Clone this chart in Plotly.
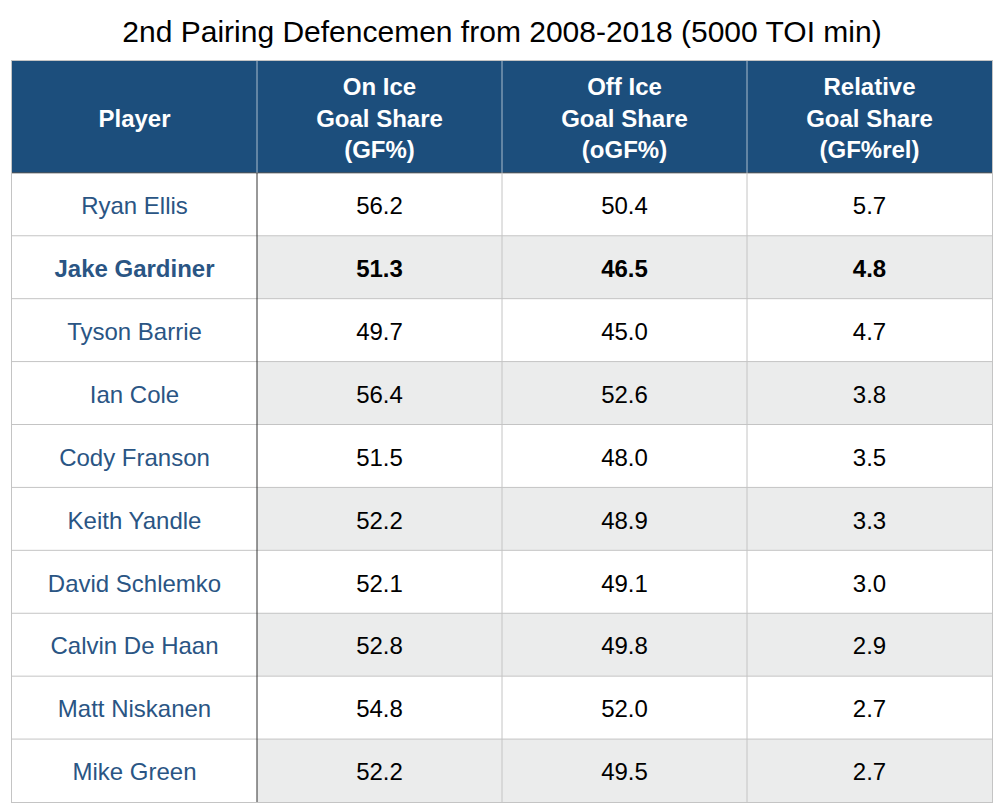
import plotly.graph_objects as go

# Table content
players = ["Ryan Ellis", "Jake Gardiner", "Tyson Barrie", "Ian Cole", "Cody Franson",
           "Keith Yandle", "David Schlemko", "Calvin De Haan", "Matt Niskanen", "Mike Green"]
gf_pct = [56.2, 51.3, 49.7, 56.4, 51.5, 52.2, 52.1, 52.8, 54.8, 52.2]
ogf_pct = [50.4, 46.5, 45.0, 52.6, 48.0, 48.9, 49.1, 49.8, 52.0, 49.5]
gf_rel = [5.7, 4.8, 4.7, 3.8, 3.5, 3.3, 3.0, 2.9, 2.7, 2.7]
headers = ["Player", "On Ice<br>Goal Share<br>(GF%)", "Off Ice<br>Goal Share<br>(oGF%)",
           "Relative<br>Goal Share<br>(GF%rel)"]
highlight = "Jake Gardiner"

FONT = "Liberation Sans, Arial, sans-serif"
HEADER_BLUE = "#1c4e7c"
NAME_BLUE = "#2a5584"
STRIPE = "#ebecec"
GRID = "#c4c4c4"

n = len(players)
ncol = len(headers)
head_h = 112 / 63  # header row is taller than the body rows
text_nudge = 0.06  # plotly's "middle" sits a touch high

# row edges (header + body rows) and centres
y_edges = [0, head_h] + [head_h + i + 1 for i in range(n)]
y_mid = [head_h + i + 0.5 + text_nudge for i in range(n)]
x_mid = [c + 0.5 for c in range(ncol)]


def fmt(vals):
    return [f"<b>{v:.1f}</b>" if p == highlight else f"{v:.1f}" for p, v in zip(players, vals)]


names = [f"<b>{p}</b>" if p == highlight else p for p in players]
columns = [names, fmt(gf_pct), fmt(ogf_pct), fmt(gf_rel)]
col_colors = [NAME_BLUE, "black", "black", "black"]

# cell fill codes: 2 header, 1 grey stripe, 0 white (player column stays white)
z = [[2] * ncol]
for i in range(n):
    s = 1 if i % 2 == 1 else 0
    z.append([0] + [s] * (ncol - 1))

fig = go.Figure()
fig.add_trace(go.Heatmap(
    z=z, x=list(range(ncol + 1)), y=y_edges,
    zmin=0, zmax=2, showscale=False, hoverinfo="skip",
    colorscale=[[0, "white"], [0.25, "white"], [0.25, STRIPE], [0.75, STRIPE],
                [0.75, HEADER_BLUE], [1, HEADER_BLUE]],
))

# header text
fig.add_trace(go.Scatter(
    x=x_mid, y=[head_h / 2 + text_nudge] * ncol, mode="text",
    text=[f"<b>{h}</b>" for h in headers], textposition="middle center",
    textfont=dict(family=FONT, size=24, color="white"), hoverinfo="skip",
))

# body text
for c in range(ncol):
    fig.add_trace(go.Scatter(
        x=[x_mid[c]] * n, y=y_mid, mode="text",
        text=columns[c], textposition="middle center",
        textfont=dict(family=FONT, size=24, color=col_colors[c]), hoverinfo="skip",
    ))

# grid lines
shapes = []
for y in y_edges[1:-1]:
    shapes.append(dict(type="line", xref="x", yref="y", x0=0, x1=ncol, y0=y, y1=y,
                       line=dict(color=GRID if y > head_h else "#555", width=1)))
for c in range(1, ncol):
    shapes.append(dict(type="line", xref="x", yref="y", x0=c, x1=c, y0=0, y1=head_h,
                       line=dict(color="#a9bccd", width=1)))
    shapes.append(dict(type="line", xref="x", yref="y", x0=c, x1=c, y0=head_h, y1=y_edges[-1],
                       line=dict(color="#333" if c == 1 else GRID, width=1)))

fig.update_layout(
    title=dict(text="2nd Pairing Defencemen from 2008-2018 (5000 TOI min)",
               x=0.5, xanchor="center", y=1 - 31 / 808, yanchor="middle",
               font=dict(family=FONT, size=30, color="black")),
    width=1004, height=808,
    margin=dict(l=0, r=0, t=0, b=0),
    paper_bgcolor="white", plot_bgcolor="white",
    showlegend=False,
    shapes=shapes,
    xaxis=dict(domain=[12 / 1004, 992 / 1004], range=[0, ncol],
               showticklabels=False, showgrid=False, zeroline=False, ticks="",
               showline=True, mirror=True, linecolor=GRID, fixedrange=True),
    yaxis=dict(domain=[1 - 802 / 808, 1 - 61 / 808], range=[y_edges[-1], 0],
               showticklabels=False, showgrid=False, zeroline=False, ticks="",
               showline=True, mirror=True, linecolor=GRID, fixedrange=True),
)

fig.write_html("out.html", config={"displayModeBar": False},
               post_script="document.body.style.margin='0px';")
